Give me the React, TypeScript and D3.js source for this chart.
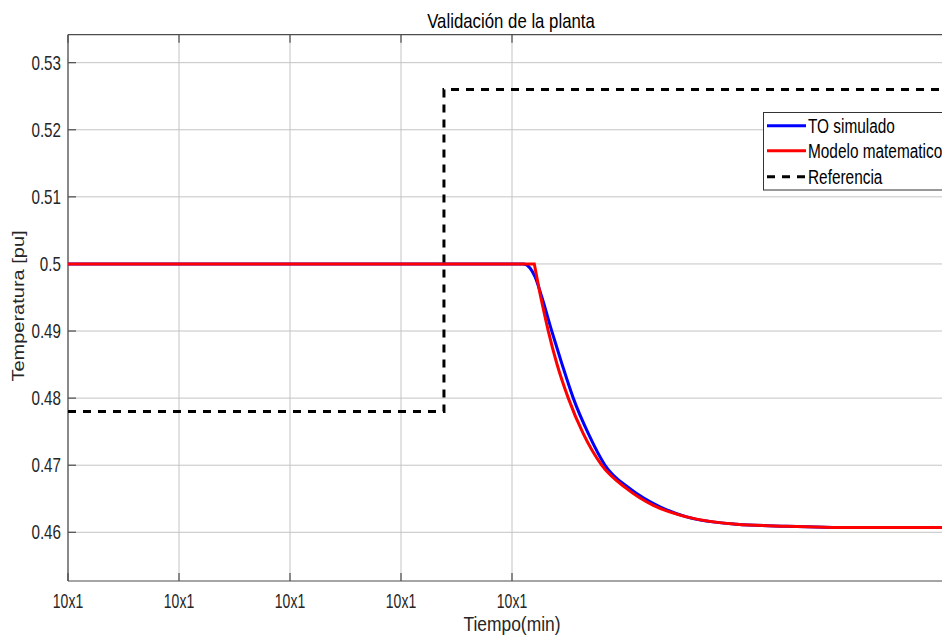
import React, { useEffect, useRef } from "react";
import * as d3 from "d3";

// ejes
const xTickValues = [0, 1, 2, 3, 4];
const xTickLabels = ["10x1", "10x1", "10x1", "10x1", "10x1"];
const yTickValues = [0.46, 0.47, 0.48, 0.49, 0.5, 0.51, 0.52, 0.53];

// TO simulado (azul)
const tSim = [0, 4.102, 4.162, 4.207, 4.268, 4.358, 4.448, 4.552, 4.688, 4.838, 5.063, 5.333, 5.574, 6.024, 6.474, 7.072, 8.0];
const tempSim = [0.5, 0.5, 0.4994, 0.4981, 0.4951, 0.49, 0.4852, 0.48, 0.4747, 0.47, 0.4665, 0.4638, 0.4623, 0.4612, 0.4609, 0.4607, 0.4607];

// Modelo matematico (rojo)
const tMod = [0, 4.201, 4.252, 4.327, 4.403, 4.507, 4.642, 4.808, 5.033, 5.273, 5.574, 6.024, 6.474, 7.072, 8.0];
const tempMod = [0.5, 0.5, 0.4956, 0.49, 0.4852, 0.48, 0.4747, 0.47, 0.4665, 0.464, 0.4623, 0.4612, 0.4609, 0.4607, 0.4607];

// Referencia (escalon)
const tRef = [0, 3.387, 3.387, 8.0];
const tempRef = [0.478, 0.478, 0.526, 0.526];

const legendNames = ["TO simulado", "Modelo matematico", "Referencia"];
const legendColors = ["#0000ff", "#ff0000", "#000000"];

const W = 942;
const H = 635;
const left = 68, right = 956, top = 34.7, bottom = 581;

export default function App() {
  const ref = useRef<SVGSVGElement>(null);

  useEffect(() => {
    const svg = d3.select(ref.current);
    svg.selectAll("*").remove();

    const x = d3.scaleLinear().domain([0, 8]).range([left, right]);
    const y = d3.scaleLinear().domain([0.45274, 0.53417]).range([bottom, top]);

    svg.append("defs").append("clipPath").attr("id", "plotClip")
      .append("rect").attr("x", left).attr("y", top).attr("width", right - left).attr("height", bottom - top);

    svg.append("rect").attr("x", left).attr("y", top).attr("width", right - left).attr("height", bottom - top).attr("fill", "#fff");

    // grid
    const grid = svg.append("g").attr("stroke", "#c4c4c4").attr("stroke-width", 1);
    xTickValues.forEach((v) => {
      grid.append("line").attr("x1", x(v)).attr("x2", x(v)).attr("y1", top).attr("y2", bottom);
    });
    yTickValues.forEach((v) => {
      grid.append("line").attr("x1", left).attr("x2", right).attr("y1", y(v)).attr("y2", y(v));
    });

    // marco y ticks
    const ax = svg.append("g").attr("stroke", "#4d4d4d").attr("stroke-width", 1.2).attr("fill", "none");
    ax.append("line").attr("x1", left).attr("x2", left).attr("y1", top).attr("y2", bottom);
    ax.append("line").attr("x1", left).attr("x2", right).attr("y1", bottom).attr("y2", bottom);
    ax.append("line").attr("x1", left).attr("x2", right).attr("y1", top).attr("y2", top);
    xTickValues.forEach((v) => {
      ax.append("line").attr("x1", x(v)).attr("x2", x(v)).attr("y1", bottom).attr("y2", bottom - 8);
      ax.append("line").attr("x1", x(v)).attr("x2", x(v)).attr("y1", top).attr("y2", top + 8);
    });
    yTickValues.forEach((v) => {
      ax.append("line").attr("x1", left).attr("x2", left + 8).attr("y1", y(v)).attr("y2", y(v));
    });

    const font = "Liberation Sans, Arial, Helvetica, sans-serif";
    const txt = (s: string, tx: number, ty: number, size: number, sx: number, anchor: string, rot = 0, fill = "#262626") =>
      svg.append("text")
        .attr("transform", `translate(${tx},${ty}) scale(${sx},1)` + (rot ? ` rotate(${rot})` : ""))
        .attr("text-anchor", anchor)
        .attr("font-family", font)
        .attr("font-size", size)
        .attr("fill", fill)
        .text(s);

    yTickValues.forEach((v) => {
      txt(String(+v.toFixed(2)), 61, y(v) + 7, 20, 0.76, "end");
    });
    xTickValues.forEach((v, i) => {
      txt(xTickLabels[i], x(v), 608, 20, 0.7, "middle");
    });

    txt("Validación de la planta", 511, 27.5, 20, 0.84, "middle", 0, "#000");
    txt("Tiempo(min)", 512, 630.5, 20, 0.87, "middle");
    txt("Temperatura [pu]", 24, 306, 20, 0.8, "middle", -90);

    // series
    const plot = svg.append("g").attr("clip-path", "url(#plotClip)");
    const mkLine = (ts: number[], vs: number[], curve: d3.CurveFactory) =>
      d3.line<number>().x((_, i) => x(ts[i])).y((d) => y(d)).curve(curve)(vs);

    plot.append("path").attr("d", mkLine(tSim, tempSim, d3.curveMonotoneX))
      .attr("fill", "none").attr("stroke", legendColors[0]).attr("stroke-width", 3);
    // rojo: esquina viva y luego curva suave
    plot.append("path").attr("d", mkLine(tMod.slice(0, 3), tempMod.slice(0, 3), d3.curveLinear))
      .attr("fill", "none").attr("stroke", legendColors[1]).attr("stroke-width", 3);
    plot.append("path").attr("d", mkLine(tMod.slice(2), tempMod.slice(2), d3.curveMonotoneX))
      .attr("fill", "none").attr("stroke", legendColors[1]).attr("stroke-width", 3);
    plot.append("path").attr("d", mkLine(tRef, tempRef, d3.curveLinear))
      .attr("fill", "none").attr("stroke", legendColors[2]).attr("stroke-width", 3)
      .attr("stroke-dasharray", "8,7");

    // leyenda
    const lg = svg.append("g");
    lg.append("rect").attr("x", 763.5).attr("y", 112.5).attr("width", 240).attr("height", 77.5)
      .attr("fill", "#fff").attr("stroke", "#333").attr("stroke-width", 1);
    const rows = [125.7, 150.7, 176.7];
    legendNames.forEach((name, i) => {
      lg.append("line").attr("x1", 767).attr("x2", 806).attr("y1", rows[i]).attr("y2", rows[i])
        .attr("stroke", legendColors[i]).attr("stroke-width", 3)
        .attr("stroke-dasharray", i === 2 ? "8,7" : null);
      lg.append("text")
        .attr("transform", `translate(808,${rows[i] + 7.5}) scale(0.77,1)`)
        .attr("font-family", font).attr("font-size", 20).attr("fill", "#000")
        .text(name);
    });
  }, []);

  return (
    <div style={{ position: "absolute", left: 0, top: 0, width: W, height: H, background: "#fff" }}>
      <svg ref={ref} width={W} height={H}></svg>
    </div>
  );
}
